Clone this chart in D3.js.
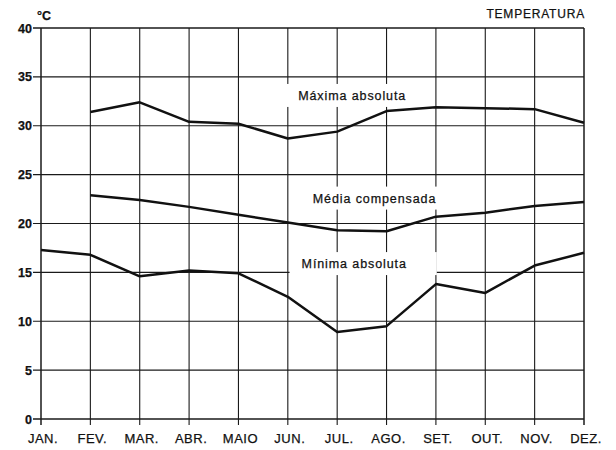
<!doctype html>
<html lang="pt">
<head>
    <meta charset="UTF-8">
    <title>D3 : Temperatura</title>
    <script type="text/javascript" src="https://cdn.jsdelivr.net/npm/d3@7"></script>
    <style type="text/css">
        body {
            margin: 0;
            background-color: #fff;
        }

        svg {
            font-family: "Liberation Sans", Arial, sans-serif;
        }

        svg text {
            stroke: #111;
            stroke-width: 0.25;
        }

        .grid line {
            stroke: #1a1a1a;
            stroke-width: 1.1;
        }

        .serie {
            fill: none;
            stroke: #111;
            stroke-width: 2.5;
            stroke-linejoin: round;
        }
    </style>
</head>
<body>
<script type="text/javascript">

    var w = 616;
    var h = 450;

    var meses = ["JAN.", "FEV.", "MAR.", "ABR.", "MAIO", "JUN.", "JUL.", "AGO.", "SET.", "OUT.", "NOV.", "DEZ."];
    var yTicks = [0, 5, 10, 15, 20, 25, 30, 35, 40];

    // maxima e media comecam em FEV.
    var maxima = [null, 31.4, 32.4, 30.4, 30.2, 28.7, 29.4, 31.5, 31.9, 31.8, 31.7, 30.3];
    var media = [null, 22.9, 22.4, 21.7, 20.9, 20.1, 19.3, 19.2, 20.7, 21.1, 21.8, 22.2];
    var minima = [17.3, 16.8, 14.6, 15.2, 14.9, 12.5, 8.9, 9.5, 13.8, 12.9, 15.7, 17.0];

    var xScale = d3.scalePoint()
        .domain(meses)
        .range([41, 584]);
    var yScale = d3.scaleLinear()
        .domain([0, 40])
        .range([419, 28]);

    var svg = d3.select("body")
        .append("svg")
        .attr("width", w)
        .attr("height", h);

    // grid (linhas horizontais com marca para a esquerda)
    var grid = svg.append("g").attr("class", "grid");
    grid.selectAll("line.h")
        .data(yTicks)
        .enter()
        .append("line")
        .attr("class", "h")
        .attr("x1", 33)
        .attr("x2", xScale("DEZ."))
        .attr("y1", function (d) {
            return yScale(d);
        })
        .attr("y2", function (d) {
            return yScale(d);
        })
        .style("stroke-width", function (d) {
            return d === 0 || d === 40 ? 1.5 : 1.1;
        });

    // linhas verticais com marca para baixo
    grid.selectAll("line.v")
        .data(meses)
        .enter()
        .append("line")
        .attr("class", "v")
        .attr("x1", function (d) {
            return xScale(d);
        })
        .attr("x2", function (d) {
            return xScale(d);
        })
        .attr("y1", yScale(40))
        .attr("y2", yScale(0) + 6)
        .style("stroke-width", function (d, i) {
            return i === 0 || i === meses.length - 1 ? 1.5 : 1.1;
        });

    // y labels
    svg.selectAll("text.ytick")
        .data(yTicks)
        .enter()
        .append("text")
        .attr("class", "ytick")
        .text(function (d) {
            return d;
        })
        .attr("x", 32)
        .attr("y", function (d) {
            return yScale(d);
        })
        .attr("dy", "0.36em")
        .attr("text-anchor", "end")
        .attr("font-size", "12.5px")
        .attr("font-weight", "bold")
        .attr("fill", "#111");

    // x labels
    svg.selectAll("text.xtick")
        .data(meses)
        .enter()
        .append("text")
        .attr("class", "xtick")
        .text(function (d) {
            return d;
        })
        .attr("x", function (d) {
            return xScale(d) + 2;
        })
        .attr("y", 443)
        .attr("text-anchor", "middle")
        .attr("font-size", "13px")
        .attr("letter-spacing", "0.5px")
        .attr("fill", "#111");

    svg.append("text")
        .text("°C")
        .attr("x", 37)
        .attr("y", 20)
        .attr("font-size", "12.5px")
        .attr("font-weight", "bold")
        .attr("fill", "#111");

    svg.append("text")
        .text("TEMPERATURA")
        .attr("x", xScale("DEZ.") + 1)
        .attr("y", 18)
        .attr("text-anchor", "end")
        .attr("font-size", "12px")
        .attr("letter-spacing", "0.8px")
        .attr("fill", "#111");

    // rotulos das series, com fundo branco que corta a grade
    var rotulos = [
        {texto: "Máxima absoluta", mes: "JUL.", valor: 33.1, dx: 15, padL: 14, padR: 6},
        {texto: "Média compensada", mes: "AGO.", valor: 22.6, dx: -12, padL: 8, padR: 8},
        {texto: "Mínima absoluta", mes: "JUL.", valor: 15.9, dx: 17, padL: 12, padR: 30}
    ];

    var gRot = svg.append("g");
    gRot.selectAll("g")
        .data(rotulos)
        .enter()
        .append("g")
        .each(function (d) {
            var g = d3.select(this);
            var t = g.append("text")
                .text(d.texto)
                .attr("x", xScale(d.mes) + d.dx)
                .attr("y", yScale(d.valor))
                .attr("dy", "0.36em")
                .attr("text-anchor", "middle")
                .attr("font-size", "12.5px")
                .attr("letter-spacing", "0.9px")
                .attr("fill", "#111");
            var b = t.node().getBBox();
            g.insert("rect", "text")
                .attr("x", b.x - d.padL)
                .attr("y", b.y - 5)
                .attr("width", b.width + d.padL + d.padR)
                .attr("height", b.height + 9)
                .attr("fill", "#fff")
                .attr("stroke", "none");
        });

    // linhas das series
    var line = d3.line()
        .defined(function (d) {
            return d !== null;
        })
        .x(function (d, i) {
            return xScale(meses[i]);
        })
        .y(function (d) {
            return yScale(d);
        });

    [maxima, media, minima].forEach(function (s) {
        svg.append("path")
            .attr("class", "serie")
            .attr("d", line(s));
    });

</script>

</body>
</html>
